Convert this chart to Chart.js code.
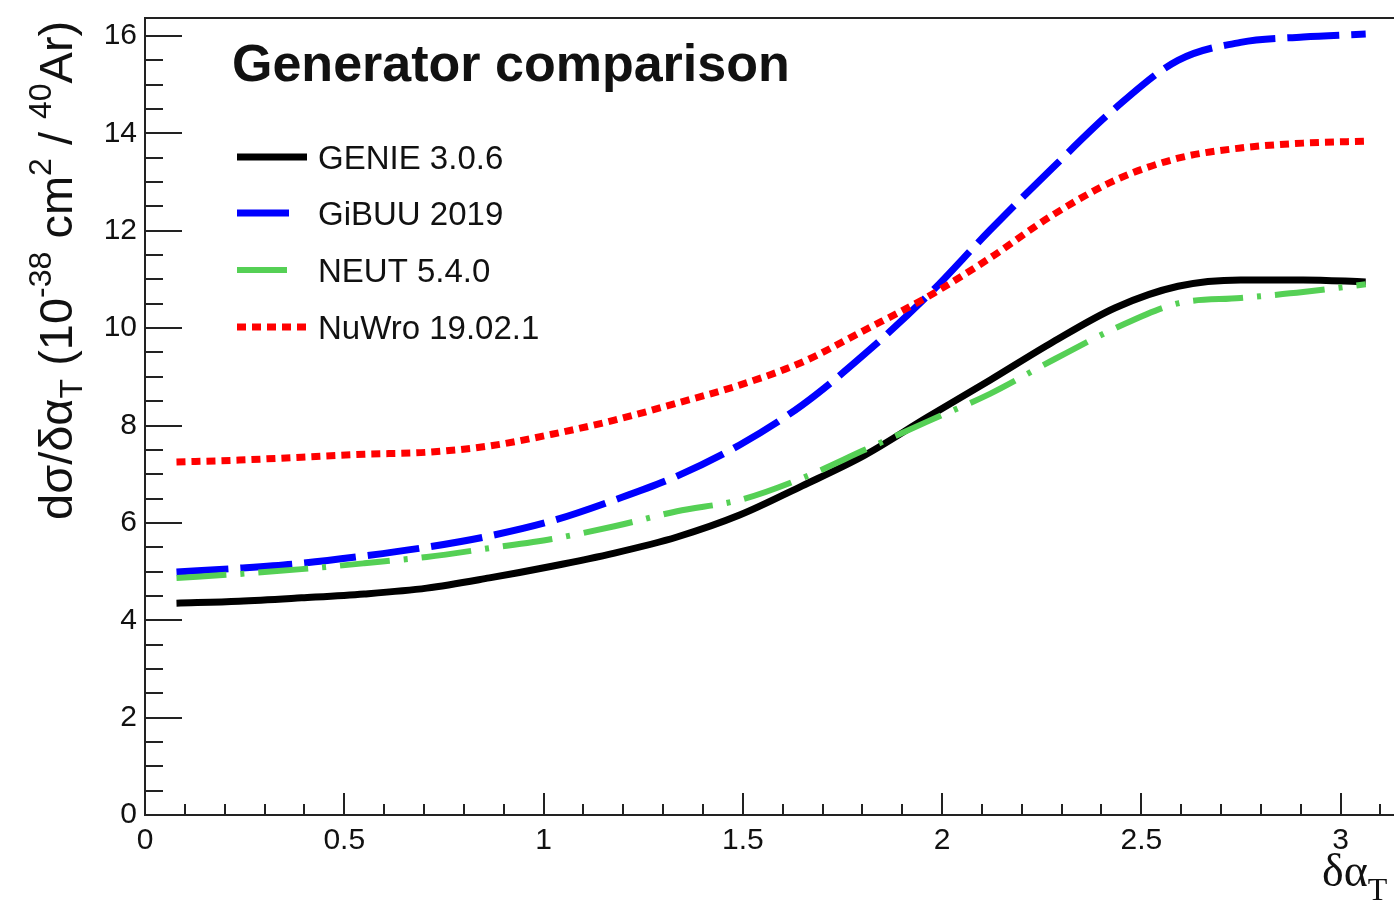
<!DOCTYPE html>
<html>
<head>
<meta charset="utf-8">
<script src="https://cdn.jsdelivr.net/npm/chart.js@4.4.0/dist/chart.umd.min.js"></script>
<style>
  html, body { margin: 0; padding: 0; background: #fff; overflow: hidden; }
  canvas { display: block; }
</style>
</head>
<body>
<canvas id="myChart" width="1394" height="906"></canvas>
<script>
const BIN_CENTERS = [0.079, 0.236, 0.393, 0.550, 0.707, 0.864, 1.021, 1.178, 1.335, 1.492,
                     1.649, 1.806, 1.963, 2.120, 2.277, 2.435, 2.592, 2.749, 2.906, 3.063];
const GENIE = [4.35, 4.39, 4.46, 4.54, 4.66, 4.87, 5.11, 5.38, 5.71, 6.16,
               6.76, 7.39, 8.17, 8.93, 9.71, 10.42, 10.86, 10.99, 10.99, 10.95];
const GIBUU = [4.99, 5.07, 5.17, 5.32, 5.50, 5.73, 6.04, 6.47, 6.96, 7.60,
               8.42, 9.47, 10.66, 12.01, 13.29, 14.52, 15.50, 15.87, 15.98, 16.04];
const NEUT = [4.87, 4.95, 5.05, 5.17, 5.30, 5.48, 5.67, 5.93, 6.24, 6.47,
              6.92, 7.50, 8.08, 8.65, 9.34, 10.00, 10.51, 10.62, 10.74, 10.90];
const NUWRO = [7.25, 7.29, 7.35, 7.41, 7.45, 7.58, 7.82, 8.11, 8.46, 8.83,
               9.30, 9.96, 10.64, 11.44, 12.32, 13.04, 13.49, 13.70, 13.80, 13.84];
const SERIES_NAMES = ['GENIE 3.0.6', 'GiBUU 2019', 'NEUT 5.4.0', 'NuWro 19.02.1'];
const X_TICKS = [0, 0.5, 1, 1.5, 2, 2.5, 3];
const Y_TICKS = [0, 2, 4, 6, 8, 10, 12, 14, 16];

const SANS = '"Liberation Sans", Arial, sans-serif';
const SERIF = '"Liberation Serif", "Times New Roman", serif';

const STYLES = [
  { color: '#000000', width: 7, dash: [] },
  { color: '#0000ff', width: 7, dash: [52, 12] },
  { color: '#55d055', width: 6, dash: [50, 14, 4, 14] },
  { color: '#ff0000', width: 7, dash: [9, 6] },
];

function points(values) {
  return values.map((v, i) => ({ x: BIN_CENTERS[i], y: v }));
}

function drawRich(c, parts) {
  let u = 0;
  parts.forEach(p => {
    c.font = p.size + 'px ' + SANS;
    c.fillText(p.text, u, p.dy || 0);
    u += c.measureText(p.text).width;
  });
}

const rootStyle = {
  id: 'rootStyle',
  afterDraw(chart) {
    const c = chart.ctx;
    const area = chart.chartArea;
    const xs = chart.scales.x, ys = chart.scales.y;
    c.save();
    c.strokeStyle = '#222';
    c.lineWidth = 2;
    c.setLineDash([]);
    c.beginPath();
    c.moveTo(chart.width, area.top);
    c.lineTo(area.left, area.top);
    c.lineTo(area.left, area.bottom);
    c.lineTo(chart.width, area.bottom);
    c.stroke();

    // ROOT style ticks, inside the frame
    c.beginPath();
    for (let k = 0; k * 0.5 <= ys.max; k++) {
      const y = Math.round(ys.getPixelForValue(k * 0.5));
      c.moveTo(area.left, y);
      c.lineTo(area.left + (k % 4 === 0 ? 37 : 18), y);
    }
    for (let k = 1; k * 0.1 <= xs.max; k++) {
      const x = Math.round(xs.getPixelForValue(k * 0.1));
      c.moveTo(x, area.bottom);
      c.lineTo(x, area.bottom - (k % 5 === 0 ? 22 : 11));
    }
    c.stroke();

    c.fillStyle = '#111';
    c.textBaseline = 'alphabetic';
    c.font = 'bold 52px ' + SANS;
    c.fillText('Generator comparison', 232, 81);

    const rows = [157, 213, 270, 327];
    const ends = [307, 295, 295, 308];
    SERIES_NAMES.forEach((name, i) => {
      const s = STYLES[i];
      c.strokeStyle = s.color;
      c.lineWidth = s.width;
      c.setLineDash(s.dash);
      c.beginPath();
      c.moveTo(237, rows[i]);
      c.lineTo(ends[i], rows[i]);
      c.stroke();
      c.fillStyle = '#111';
      c.font = '33px ' + SANS;
      c.fillText(name, 318, rows[i] + 12);
    });

    c.save();
    c.translate(72, 520);
    c.rotate(-Math.PI / 2);
    drawRich(c, [
      { text: 'dσ/δα', size: 47 },
      { text: 'T', size: 32, dy: 10 },
      { text: ' (10', size: 47 },
      { text: '-38', size: 32, dy: -21 },
      { text: ' cm', size: 47 },
      { text: '2', size: 32, dy: -21 },
      { text: ' / ', size: 47 },
      { text: '40', size: 32, dy: -21 },
      { text: 'Ar)', size: 47 },
    ]);
    c.restore();

    c.font = '46px ' + SERIF;
    c.fillText('δα', 1322, 886);
    const w = c.measureText('δα').width;
    c.font = '32px ' + SERIF;
    c.fillText('T', 1322 + w, 900);
    c.restore();
  }
};

let ctx = document.querySelector('#myChart').getContext('2d');
let myChart = new Chart(ctx, {
  type: 'line',
  data: {
    datasets: [GENIE, GIBUU, NEUT, NUWRO].map((vals, i) => ({
      label: SERIES_NAMES[i],
      data: points(vals),
      borderColor: STYLES[i].color,
      borderWidth: STYLES[i].width,
      borderDash: STYLES[i].dash,
      borderCapStyle: 'butt',
      pointRadius: 0,
      fill: false,
      cubicInterpolationMode: 'monotone',
    })).reverse()
  },
  options: {
    responsive: false,
    animation: false,
    devicePixelRatio: 1,
    layout: { padding: { top: 18, left: 0, right: 0, bottom: 0 } },
    plugins: { legend: { display: false }, tooltip: { enabled: false } },
    scales: {
      x: {
        type: 'linear',
        min: 0,
        max: 3.134,
        grid: { display: false, drawTicks: false },
        border: { display: false },
        afterBuildTicks: (scale) => { scale.ticks = X_TICKS.map(v => ({ value: v })); },
        afterFit: (scale) => {
          scale.height = 91;
          scale.paddingLeft = 0;
          scale.paddingRight = 0;
        },
        ticks: {
          padding: 8,
          maxRotation: 0,
          autoSkip: false,
          color: '#111',
          font: { family: SANS, size: 30 },
          callback: (v) => String(v),
        },
      },
      y: {
        min: 0,
        max: 16.37,
        grid: { display: false, drawTicks: false },
        border: { display: false },
        afterBuildTicks: (scale) => { scale.ticks = Y_TICKS.map(v => ({ value: v })); },
        afterFit: (scale) => {
          scale.width = 145;
          scale.paddingTop = 0;
          scale.paddingBottom = 0;
        },
        ticks: {
          padding: 8,
          autoSkip: false,
          color: '#111',
          font: { family: SANS, size: 30 },
          callback: (v) => String(v),
        },
      },
    },
  },
  plugins: [rootStyle],
});
</script>
</body>
</html>
